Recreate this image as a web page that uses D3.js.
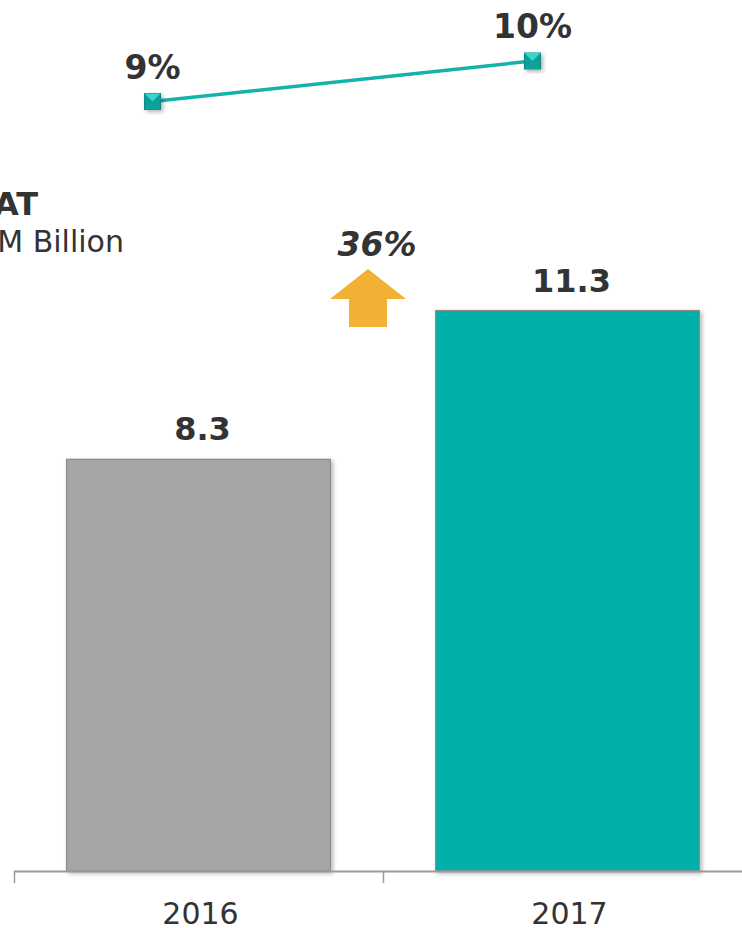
<!DOCTYPE html>
<html>
<head>
<meta charset="utf-8">
<script src="https://cdn.jsdelivr.net/npm/d3@7"></script>
<style>
  html, body { margin: 0; padding: 0; background: #fff; }
  svg { display: block; font-family: "DejaVu Sans", Verdana, sans-serif; }
</style>
</head>
<body>
<div id="chart"></div>
<script>
  // data
  const years = ['2016', '2017'];
  const patValues = [8.3, 11.3];
  const marginValues = [9, 10];
  const marginLabels = ['9%', '10%'];
  const growthLabel = '36%';
  const barColors = ['#a6a6a6', '#00b0a9'];

  const width = 742, height = 928;
  const textColor = '#333333';

  const svg = d3.select('#chart').append('svg')
      .attr('width', width)
      .attr('height', height);

  const defs = svg.append('defs');
  const shadow = defs.append('filter').attr('id', 'shadow')
      .attr('x', '-20%').attr('y', '-20%').attr('width', '150%').attr('height', '150%');
  shadow.append('feDropShadow')
      .attr('dx', 2).attr('dy', 2).attr('stdDeviation', 2)
      .attr('flood-color', '#000').attr('flood-opacity', 0.3);

  // bar chart
  const x = d3.scaleBand()
      .domain(years)
      .range([14, 752])
      .paddingInner(0.285)
      .paddingOuter(0.1425);

  const y = d3.scaleLinear()
      .domain([0, 12])
      .range([871, 871 - 12 * 49.6]);

  svg.append('g')
    .selectAll('rect')
    .data(years)
    .join('rect')
      .attr('x', d => x(d))
      .attr('y', (d, i) => y(patValues[i]))
      .attr('width', x.bandwidth())
      .attr('height', (d, i) => y(0) - y(patValues[i]))
      .attr('fill', (d, i) => barColors[i])
      .attr('stroke', '#8c8c8c')
      .attr('stroke-width', 1.2)
      .attr('filter', 'url(#shadow)');

  svg.append('g')
    .selectAll('text')
    .data(years)
    .join('text')
      .attr('x', d => x(d) + x.bandwidth() / 2 + 4)
      .attr('y', (d, i) => y(patValues[i]) - 19)
      .attr('text-anchor', 'middle')
      .attr('font-size', 32)
      .attr('font-weight', 'bold')
      .attr('fill', textColor)
      .text((d, i) => patValues[i].toFixed(1));

  // category axis with ticks between the bars
  const step = x.step();
  const axisG = svg.append('g');
  axisG.append('line')
      .attr('x1', 14).attr('x2', width)
      .attr('y1', y(0) + 0.5).attr('y2', y(0) + 0.5)
      .attr('stroke', '#9a9a9a').attr('stroke-width', 2);
  axisG.selectAll('.tick')
    .data(d3.range(years.length + 1))
    .join('line')
      .attr('x1', i => 14 + i * step + 0.5)
      .attr('x2', i => 14 + i * step + 0.5)
      .attr('y1', y(0))
      .attr('y2', y(0) + 12)
      .attr('stroke', '#9a9a9a').attr('stroke-width', 1.5);
  axisG.selectAll('text')
    .data(years)
    .join('text')
      .attr('x', d => x(d) + x.bandwidth() / 2 + 2)
      .attr('y', 924)
      .attr('text-anchor', 'middle')
      .attr('font-size', 30)
      .attr('fill', textColor)
      .text(d => d);

  // title (cut off at the left edge, as in the source)
  svg.append('text')
      .attr('x', 38).attr('y', 215)
      .attr('text-anchor', 'end')
      .attr('font-size', 32).attr('font-weight', 'bold')
      .attr('fill', textColor)
      .text('PAT');
  svg.append('text')
      .attr('x', 124).attr('y', 252)
      .attr('text-anchor', 'end')
      .attr('font-size', 30)
      .attr('fill', textColor)
      .text('RM Billion');

  // growth arrow
  const ax = 368, ay = 269;
  svg.append('path')
      .attr('d', `M${ax},${ay} L${ax + 38},${ay + 30} L${ax + 19},${ay + 30} L${ax + 19},${ay + 58}
                  L${ax - 19},${ay + 58} L${ax - 19},${ay + 30} L${ax - 38},${ay + 30} Z`)
      .attr('fill', '#f2b134');
  svg.append('text')
      .attr('x', 377).attr('y', 256)
      .attr('text-anchor', 'middle')
      .attr('font-size', 33).attr('font-weight', 'bold').attr('font-style', 'italic')
      .attr('fill', textColor)
      .text(growthLabel);

  // margin line
  const lx = d3.scalePoint().domain(years).range([152.5, 532.5]);
  const ly = d3.scaleLinear().domain([9, 10]).range([101.5, 61]);

  const line = d3.line()
      .x((d, i) => lx(years[i]))
      .y(d => ly(d));

  svg.append('path')
      .datum(marginValues)
      .attr('d', line)
      .attr('fill', 'none')
      .attr('stroke', '#14b2aa')
      .attr('stroke-width', 3.5);

  const s = 8;
  const markers = svg.append('g')
    .selectAll('g')
    .data(marginValues)
    .join('g')
      .attr('transform', (d, i) => `translate(${lx(years[i])},${ly(d)})`)
      .attr('filter', 'url(#shadow)');
  markers.append('rect')
      .attr('x', -s).attr('y', -s).attr('width', 2 * s).attr('height', 2 * s)
      .attr('fill', '#0a9e97')
      .attr('stroke', '#0b8a84').attr('stroke-width', 1);
  markers.append('path')
      .attr('d', `M${-s},${-s} L${s},${-s} L0,0 Z`)
      .attr('fill', '#35d6ce');
  markers.append('path')
      .attr('d', `M${-s},${s} L${s},${s} L0,0 Z`)
      .attr('fill', '#08a39c');

  svg.append('g')
    .selectAll('text')
    .data(marginLabels)
    .join('text')
      .attr('x', (d, i) => lx(years[i]))
      .attr('y', (d, i) => ly(marginValues[i]) - 23)
      .attr('text-anchor', 'middle')
      .attr('font-size', 33).attr('font-weight', 'bold')
      .attr('fill', textColor)
      .text(d => d);
</script>
</body>
</html>
